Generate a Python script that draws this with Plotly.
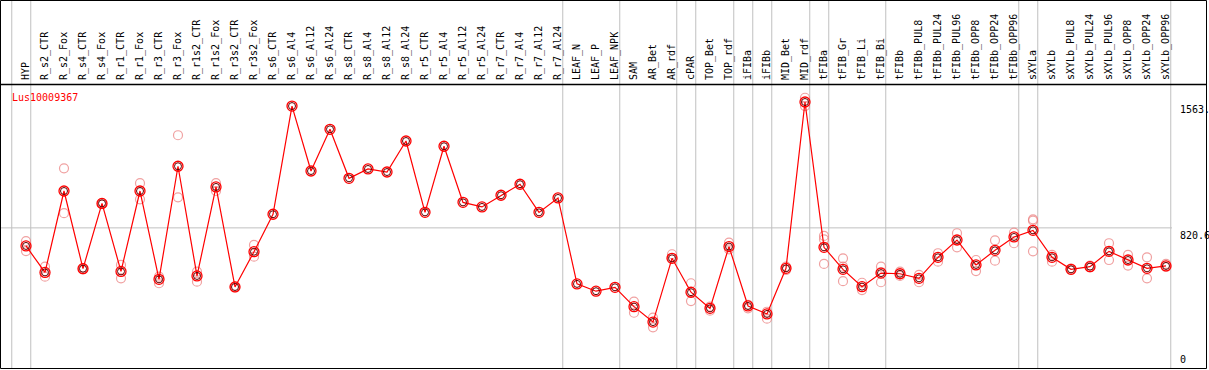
import plotly.graph_objects as go

categories = ["HYP", "R_s2_CTR", "R_s2_Fox", "R_s4_CTR", "R_s4_Fox", "R_r1_CTR", "R_r1_Fox",
              "R_r3_CTR", "R_r3_Fox", "R_r1s2_CTR", "R_r1s2_Fox", "R_r3s2_CTR", "R_r3s2_Fox",
              "R_s6_CTR", "R_s6_Al4", "R_s6_Al12", "R_s6_Al24", "R_s8_CTR", "R_s8_Al4", "R_s8_Al12",
              "R_s8_Al24", "R_r5_CTR", "R_r5_Al4", "R_r5_Al12", "R_r5_Al24", "R_r7_CTR", "R_r7_Al4",
              "R_r7_Al12", "R_r7_Al24", "LEAF_N", "LEAF_P", "LEAF_NPK", "SAM", "AR_Bet", "AR_rdf",
              "cPAR", "TOP_Bet", "TOP_rdf", "iFIBa", "iFIBb", "MID_Bet", "MID_rdf", "tFIBa",
              "tFIB_Gr", "tFIB_Li", "tFIB_Bi", "tFIBb", "tFIBb_PUL8", "tFIBb_PUL24", "tFIBb_PUL96",
              "tFIBb_OPP8", "tFIBb_OPP24", "tFIBb_OPP96", "sXYLa", "sXYLb", "sXYLb_PUL8",
              "sXYLb_PUL24", "sXYLb_PUL96", "sXYLb_OPP8", "sXYLb_OPP24", "sXYLb_OPP96"]

mean_values = [714, 558, 1038, 580, 965, 564, 1038, 517, 1184, 537, 1062, 472, 680,
               901, 1539, 1156, 1402, 1113, 1168, 1150, 1333, 912, 1302, 971, 944, 1013, 1078,
               912, 997, 490, 447, 470, 356, 265, 641, 441, 346, 710, 360, 313, 582, 1563, 706,
               576, 474, 554, 550, 523, 647, 749, 602, 688, 767, 806, 647, 576,
               592, 682, 631, 582, 596]

rep_categories = ["HYP", "HYP", "R_s2_CTR", "R_s2_CTR", "R_s2_Fox", "R_s2_Fox", "R_s4_CTR", "R_s4_CTR",
                  "R_s4_Fox", "R_s4_Fox", "R_r1_CTR", "R_r1_CTR", "R_r1_Fox", "R_r1_Fox",
                  "R_r3_CTR", "R_r3_CTR", "R_r3_Fox", "R_r3_Fox", "R_r1s2_CTR", "R_r1s2_CTR",
                  "R_r1s2_Fox", "R_r1s2_Fox", "R_r3s2_CTR", "R_r3s2_CTR", "R_r3s2_Fox", "R_r3s2_Fox",
                  "SAM", "SAM", "AR_Bet", "AR_Bet", "AR_rdf", "AR_rdf", "cPAR", "cPAR",
                  "TOP_Bet", "TOP_Bet", "TOP_rdf", "TOP_rdf", "iFIBa", "iFIBa", "iFIBb", "iFIBb",
                  "MID_Bet", "MID_Bet", "MID_rdf", "MID_rdf", "tFIBa", "tFIBa", "tFIBa",
                  "tFIB_Gr", "tFIB_Gr", "tFIB_Gr", "tFIB_Li", "tFIB_Li", "tFIB_Bi", "tFIB_Bi", "tFIB_Bi",
                  "tFIBb", "tFIBb", "tFIBb_PUL8", "tFIBb_PUL8", "tFIBb_PUL24", "tFIBb_PUL24",
                  "tFIBb_PUL96", "tFIBb_PUL96", "tFIBb_OPP8", "tFIBb_OPP8", "tFIBb_OPP24", "tFIBb_OPP24",
                  "tFIBb_OPP96", "tFIBb_OPP96", "sXYLa", "sXYLa", "sXYLa", "sXYLb", "sXYLb",
                  "sXYLb_PUL8", "sXYLb_PUL8", "sXYLb_PUL24", "sXYLb_PUL24", "sXYLb_PUL96", "sXYLb_PUL96",
                  "sXYLb_OPP8", "sXYLb_OPP8", "sXYLb_OPP24", "sXYLb_OPP24", "sXYLb_OPP96", "sXYLb_OPP96"]

rep_values = [743, 684, 592, 533, 1172, 907, 584, 576,
              967, 961, 602, 523, 1084, 989,
              533, 494, 1367, 1001, 562, 503,
              1084, 1038, 474, 470, 720, 651,
              385, 320, 291, 234, 665, 643, 494, 389,
              356, 332, 733, 694, 366, 346, 326, 285,
              592, 572, 1588, 1539, 773, 753, 608,
              641, 592, 506, 497, 454, 592, 500, 560,
              562, 537, 543, 500, 671, 621,
              789, 706, 631, 566, 747, 627,
              792, 730, 871, 863, 682, 661, 621,
              580, 572, 598, 588, 730, 631,
              661, 598, 647, 523, 608, 590]

y_ticks = [0, 820.6, 1563]
y_tick_text = ["0", "820.6", "1563."]
group_breaks = ["", "HYP", "R_r7_Al24", "LEAF_NPK", "AR_rdf", "cPAR", "TOP_rdf", "iFIBa",
                "iFIBb", "MID_rdf", "tFIBa", "tFIB_Bi", "tFIBb_OPP96", "sXYLa", "sXYLb_OPP96"]
gene = "Lus10009367"

idx = {c: i for i, c in enumerate(categories)}
x_mean = list(range(len(categories)))
x_rep = [idx[c] for c in rep_categories]

W, H = 1209, 370
T, B = 86, 1
plot_h = H - T - B
px_per_unit = 265.0 / 1563.0
y_top = (367 - T) / px_per_unit
y_bot = y_top - plot_h / px_per_unit
x_lo = -26 / 19
x_hi = (W - 26) / 19

def px2paper_y(py):
    return (H - B - py) / plot_h

fig = go.Figure()

fig.add_trace(go.Scatter(
    x=x_rep, y=rep_values, mode="markers",
    marker=dict(symbol="circle-open", size=9, color="rgba(235,130,130,0.75)", line=dict(width=1.2)),
    hoverinfo="skip", showlegend=False))

fig.add_trace(go.Scatter(
    x=x_mean, y=mean_values, mode="lines+markers",
    line=dict(color="red", width=1.2),
    marker=dict(symbol="circle-open", size=10, color="red", line=dict(width=1.3)),
    showlegend=False))

fig.add_trace(go.Scatter(
    x=x_mean, y=mean_values, mode="markers",
    marker=dict(symbol="circle-open", size=7, color="#600000", line=dict(width=1)),
    hoverinfo="skip", showlegend=False))

shapes = []
for g in group_breaks:
    gx = (idx[g] if g else -1) + 0.25
    shapes.append(dict(type="line", xref="x", yref="paper", x0=gx, x1=gx,
                       y0=0, y1=px2paper_y(0), line=dict(color="#c0c0c0", width=1), layer="below"))
shapes.append(dict(type="line", xref="paper", yref="y", x0=0, x1=1172 / W,
                   y0=y_ticks[1], y1=y_ticks[1], line=dict(color="#c0c0c0", width=1), layer="below"))
# frame
shapes.append(dict(type="rect", xref="paper", yref="paper", x0=0.5 / W, x1=1206.5 / W,
                   y0=px2paper_y(368.5), y1=px2paper_y(0.5), line=dict(color="black", width=1)))
shapes.append(dict(type="line", xref="paper", yref="paper", x0=0, x1=1206.5 / W,
                   y0=px2paper_y(84.5), y1=px2paper_y(84.5), line=dict(color="black", width=1.5)))

annotations = []
for v, t in zip(y_ticks, y_tick_text):
    annotations.append(dict(x=1178 / W, xref="paper", y=v, yref="y", text=t, showarrow=False,
                            xanchor="left", yanchor="bottom" if v == 0 else "top",
                            yshift=0, font=dict(family="DejaVu Sans Mono", size=10, color="black")))
annotations.append(dict(x=10 / W, xref="paper", y=px2paper_y(90), yref="paper", text=gene,
                        showarrow=False, xanchor="left", yanchor="top",
                        font=dict(family="DejaVu Sans Mono", size=10, color="red")))

fig.update_layout(
    width=W, height=H, margin=dict(l=0, r=0, t=T, b=B, autoexpand=False),
    paper_bgcolor="white", plot_bgcolor="white",
    xaxis=dict(range=[x_lo, x_hi], side="top", tickmode="array", tickvals=x_mean,
               ticktext=categories, tickangle=-90, showgrid=False, zeroline=False, ticks="",
               showline=False, ticklabelstandoff=5,
               tickfont=dict(family="DejaVu Sans Mono", size=10, color="black")),
    yaxis=dict(range=[y_bot, y_top], showgrid=False, zeroline=False, showticklabels=False,
               showline=False),
    shapes=shapes, annotations=annotations,
)

fig.write_html("out.html", config={"displayModeBar": False},
               post_script="document.body.style.margin='0';document.body.style.padding='0';")
